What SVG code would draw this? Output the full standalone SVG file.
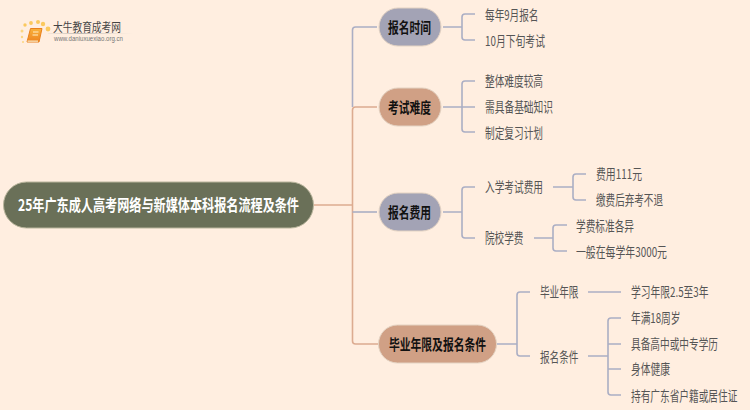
<svg xmlns="http://www.w3.org/2000/svg" width="750" height="410" viewBox="0 0 750 410">
<defs>
<linearGradient id="book" x1="0" y1="0" x2="0" y2="1"><stop offset="0" stop-color="#f9b23c"/><stop offset="1" stop-color="#ee8420"/></linearGradient>
<linearGradient id="rule" x1="0" y1="0" x2="1" y2="0"><stop offset="0" stop-color="#c9c3bc" stop-opacity="0.2"/><stop offset="0.4" stop-color="#bdb8b2"/><stop offset="1" stop-color="#e8ddd2" stop-opacity="0"/></linearGradient>
</defs>
<style>
text{font-family:"Noto Sans CJK SC","Liberation Sans",sans-serif;dominant-baseline:central}
.c{fill:none;stroke-width:1.6}
.b{stroke:#abaec4}
.o{stroke:#dcab90}
.t{font-size:14.5px;font-weight:700;fill:#111}
.l{font-size:13.5px;fill:#555}
.p{stroke-width:1;stroke:#e4d3c3}
</style>
<rect width="750" height="410" fill="#ffeee0"/>
<g id="logo">
<circle cx="25" cy="25" r="1.700" fill="#fbc95e"/>
<circle cx="31" cy="23" r="1.900" fill="#fbc95e"/>
<circle cx="38" cy="22" r="2" fill="#fbc95e"/>
<circle cx="43" cy="24" r="2.200" fill="#fbc95e"/>
<circle cx="48" cy="29" r="2.400" fill="#fbc95e"/>
<circle cx="22" cy="31" r="1.500" fill="#fbd680"/>
<circle cx="22" cy="37" r="1.200" fill="#fbd680"/>
<circle cx="23" cy="42" r="1" fill="#fbd680"/>
<path d="M30.500 28.500h11.500l-3 13.500h-12z" fill="url(#book)" stroke="#e9801c" stroke-width="1" stroke-linejoin="round"/>
<path d="M33 32h5.500M32.500 35h5.500" stroke="#fff0c8" stroke-width="1"/>
<rect x="27.500" y="40.500" width="10.500" height="1.300" fill="#f7e3c0"/>
<text x="53" y="26" font-size="12" fill="#444" textLength="68" lengthAdjust="spacingAndGlyphs">大牛教育成考网</text>
<rect x="48" y="33" width="86" height="1" fill="url(#rule)"/>
<text x="54" y="38.500" font-size="7" fill="#777" textLength="69" lengthAdjust="spacingAndGlyphs" style="font-family:'Liberation Sans',sans-serif">www.daniuxuexiao.org.cn</text>
</g>
<g id="connectors">
<path class="c o" d="M314 205H352.500"/>
<path class="c b" d="M352.500 107V30a3 3 0 0 1 3-3H377"/>
<path class="c o" d="M377 107H355.500a3 3 0 0 0-3 3V341a3 3 0 0 0 3 3H379"/>
<path class="c b" d="M352.500 212H377"/>
<path class="c b" d="M443 27H462M475 14H465a3 3 0 0 0-3 3V37a3 3 0 0 0 3 3H475"/>
<path class="c b" d="M443 107H475M475 81H465a3 3 0 0 0-3 3V129a3 3 0 0 0 3 3H475"/>
<path class="c b" d="M443 212H462M475 187H465a3 3 0 0 0-3 3V235a3 3 0 0 0 3 3H475"/>
<path class="c b" d="M553 187H573M586 174H576a3 3 0 0 0-3 3V197a3 3 0 0 0 3 3H586"/>
<path class="c b" d="M534 238H553M567 225H556a3 3 0 0 0-3 3V248a3 3 0 0 0 3 3H567"/>
<path class="c b" d="M497 344H517M530 292H520a3 3 0 0 0-3 3V353a3 3 0 0 0 3 3H530"/>
<path class="c b" d="M588 292H621"/>
<path class="c b" d="M588 356H608M621 318H611a3 3 0 0 0-3 3V392a3 3 0 0 0 3 3H621M608 344H621M608 369H621"/>
</g>
<g id="root"><rect x="3.500" y="182" width="310" height="46" rx="23" fill="#6a7058" stroke="#b9b59c" stroke-width="1"/><text x="18" y="203.500" font-size="16" font-weight="700" fill="#fff" textLength="281" lengthAdjust="spacingAndGlyphs">25年广东成人高考网络与新媒体本科报名流程及条件</text></g>
<g id="n1"><rect class="p" x="379" y="8" width="62" height="38" rx="19" fill="#a3a3b5"/><text class="t" x="388" y="26" textLength="43" lengthAdjust="spacingAndGlyphs">报名时间</text></g>
<g id="n2"><rect class="p" x="379" y="88" width="62" height="38" rx="19" fill="#d0a085"/><text class="t" x="388" y="106" textLength="43" lengthAdjust="spacingAndGlyphs">考试难度</text></g>
<g id="n3"><rect class="p" x="379" y="193" width="62" height="38" rx="19" fill="#a3a3b5"/><text class="t" x="388" y="211" textLength="43" lengthAdjust="spacingAndGlyphs">报名费用</text></g>
<g id="n4"><rect class="p" x="378.500" y="325" width="118" height="38" rx="19" fill="#d0a085"/><text class="t" x="389" y="343" textLength="97" lengthAdjust="spacingAndGlyphs">毕业年限及报名条件</text></g>
<g id="l1"><text class="l" x="485" y="13.500" textLength="53.500" lengthAdjust="spacingAndGlyphs">每年9月报名</text></g>
<g id="l2"><text class="l" x="485" y="39.500" textLength="60" lengthAdjust="spacingAndGlyphs">10月下旬考试</text></g>
<g id="l3"><text class="l" x="485" y="80" textLength="58" lengthAdjust="spacingAndGlyphs">整体难度较高</text></g>
<g id="l4"><text class="l" x="485" y="106" textLength="68" lengthAdjust="spacingAndGlyphs">需具备基础知识</text></g>
<g id="l5"><text class="l" x="485" y="131.500" textLength="58" lengthAdjust="spacingAndGlyphs">制定复习计划</text></g>
<g id="l6"><text class="l" x="485" y="185.500" textLength="58" lengthAdjust="spacingAndGlyphs">入学考试费用</text></g>
<g id="l7"><text class="l" x="596" y="173" textLength="46" lengthAdjust="spacingAndGlyphs">费用111元</text></g>
<g id="l8"><text class="l" x="596" y="199" textLength="67" lengthAdjust="spacingAndGlyphs">缴费后弃考不退</text></g>
<g id="l9"><text class="l" x="485" y="237" textLength="38.500" lengthAdjust="spacingAndGlyphs">院校学费</text></g>
<g id="l10"><text class="l" x="576" y="224.500" textLength="58" lengthAdjust="spacingAndGlyphs">学费标准各异</text></g>
<g id="l11"><text class="l" x="576" y="250.500" textLength="91" lengthAdjust="spacingAndGlyphs">一般在每学年3000元</text></g>
<g id="l12"><text class="l" x="540" y="291" textLength="38.500" lengthAdjust="spacingAndGlyphs">毕业年限</text></g>
<g id="l13"><text class="l" x="631" y="291" textLength="77.500" lengthAdjust="spacingAndGlyphs">学习年限2.5至3年</text></g>
<g id="l14"><text class="l" x="540" y="355.500" textLength="38.500" lengthAdjust="spacingAndGlyphs">报名条件</text></g>
<g id="l15"><text class="l" x="631" y="317" textLength="49.500" lengthAdjust="spacingAndGlyphs">年满18周岁</text></g>
<g id="l16"><text class="l" transform="translate(631 342.500) scale(0.716 1)">具备高中或中专学历</text></g>
<g id="l17"><text class="l" x="631" y="368" textLength="39" lengthAdjust="spacingAndGlyphs">身体健康</text></g>
<g id="l18"><text class="l" transform="translate(631 394.500) scale(0.717 1)">持有广东省户籍或居住证</text></g>
</svg>
